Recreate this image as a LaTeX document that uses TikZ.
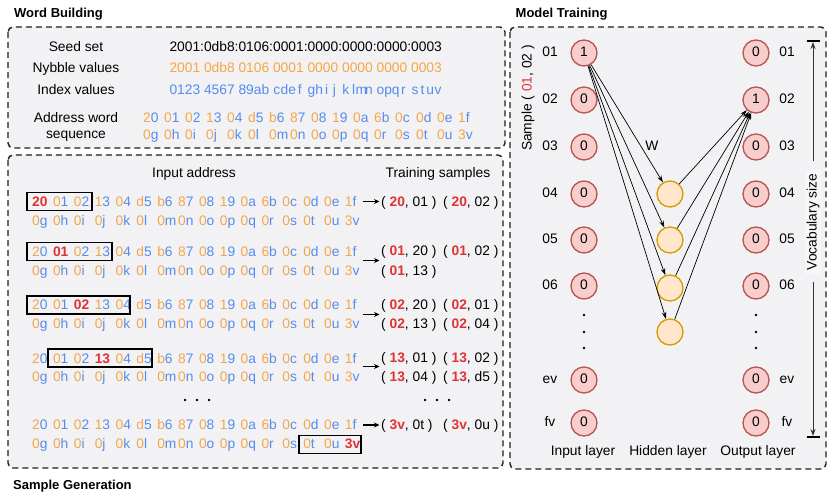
\documentclass[tikz,border=0pt]{standalone}
\usepackage{fontspec}
\setmainfont{Liberation Sans}
\usetikzlibrary{arrows.meta}
\definecolor{panelfill}{RGB}{242,242,245}
\definecolor{vocfill}{RGB}{247,247,249}
\definecolor{aorange}{RGB}{246,166,70}
\definecolor{ablue}{RGB}{82,140,240}
\definecolor{ared}{RGB}{222,52,52}
\definecolor{cfill}{RGB}{248,206,204}
\definecolor{cdraw}{RGB}{184,84,80}
\definecolor{hfill}{RGB}{255,230,204}
\definecolor{hdraw}{RGB}{215,155,0}
\newcommand\bodyfs{\fontsize{13.8}{16}\selectfont}
\newcommand\titlefs{\fontsize{13}{15}\selectfont\bfseries}
\newcommand\cb[1]{\makebox[0.556em][c]{#1}}
\newcommand\grp[4]{\cb{#1}\cb{#2}\cb{#3}\cb{#4}}
\newcommand\gsep{\hspace{0.278em}}
\newcommand\rb[1]{\textcolor{ared}{\bfseries #1}}
\newcommand\tsp[2]{( \rb{#1}, #2 )}
\newcommand\redidx{-1}
% #1 name prefix, #2 x0, #3 pitch, #4 baseline line1, #5 baseline line2
\newcommand\addrrows[5]{%
  \foreach \pa/\pb [count=\i from 0] in {2/0,0/1,0/2,1/3,0/4,d/5,b/6,8/7,0/8,1/9,0/a,6/b,0/c,0/d,0/e,1/f,0/g,0/h,0/i,0/j,0/k,0/l,0/m,0/n,0/o,0/p,0/q,0/r,0/s,0/t,0/u,3/v}{%
    \pgfmathtruncatemacro\wcol{mod(\i,16)}%
    \pgfmathsetmacro\wy{\i<16 ? #4 : #5}%
    \ifnum\i=\redidx\relax
      \node[aw] (#1w\i) at ({#2+\wcol*#3},\wy) {\rb{\pa\pb}};
    \else
      \node[aw] (#1w\i) at ({#2+\wcol*#3},\wy) {\textcolor{aorange}{\pa}\textcolor{ablue}{\pb}};
    \fi
  }%
}
\begin{document}
\begin{tikzpicture}[x=1pt,y=-1pt,
  panel/.style={draw=black!88,fill=panelfill,line width=1.4pt,dash pattern=on 6pt off 4pt,rounded corners=5pt},
  title/.style={anchor=base west,inner sep=0pt,font=\titlefs},
  txt/.style={anchor=base,inner sep=0pt,font=\bodyfs},
  txtw/.style={anchor=base west,inner sep=0pt,font=\bodyfs},
  aw/.style={anchor=base west,inner sep=0pt,font=\bodyfs},
  hbox/.style={draw=black,line width=1.6pt},
  sarr/.style={line width=1.1pt,-{Stealth[length=5.5pt,width=5pt]}},
  narr/.style={line width=0.7pt,-{Stealth[length=7pt,width=4.5pt]}},
  neu/.style={circle,draw=cdraw,fill=cfill,line width=1.3pt,minimum size=26pt,inner sep=0pt,text height=0.716em,text depth=0pt,font=\bodyfs},
  hid/.style={circle,draw=hdraw,fill=hfill,line width=1.3pt,minimum size=26pt,inner sep=0pt},
  lab/.style={inner sep=0pt,text height=0.716em,text depth=0pt,font=\bodyfs}
]
\useasboundingbox (0,0) rectangle (830,498);

% ---------------- panels
\draw[panel] (8,27) rectangle (505,148);
\draw[panel] (8,155) rectangle (503,468);
\draw[panel] (510,27) rectangle (826,469);

\node[title] (tWB) at (14,17.3) {Word Building};
\node[title] (tMT) at (515.5,17.3) {Model Training};
\node[title] (tSG) at (13,489.6) {Sample Generation};

% ---------------- word building
\node[txt] (lSeed) at (76,51) {Seed set};
\node[txt] (lNyb) at (76,72.3) {Nybble values};
\node[txt] (lIdx) at (76,94.5) {Index values};
\node[txt] (lAw1) at (76,122.5) {Address word};
\node[txt] (lAw2) at (76,138.5) {sequence};

\node[txtw] (vSeed) at (169.3,51) {2001:0db8:0106:0001:0000:0000:0000:0003};
\node[txtw,text=aorange] (vNyb) at (169.3,72.3) {\grp2001\gsep\grp0db8\gsep\grp0106\gsep\grp0001\gsep\grp0000\gsep\grp0000\gsep\grp0000\gsep\grp0003};
\node[txtw,text=ablue] (vIdx) at (169.3,94.5) {\grp0123\gsep\grp4567\gsep\grp89ab\gsep\grp cdef\gsep\grp ghij\gsep\grp klmn\gsep\grp opqr\gsep\grp stuv};

\renewcommand\redidx{-1}
\addrrows{wb}{143}{21}{122.5}{139.5}

% ---------------- sample generation
\node[txt] (lIn) at (194,177) {Input address};
\node[txt] (lTr) at (438,177) {Training samples};

\renewcommand\redidx{0}
\addrrows{ra}{32}{20.85}{206.6}{225.8}
\renewcommand\redidx{1}
\addrrows{rb}{32}{20.85}{256.6}{275.4}
\renewcommand\redidx{2}
\addrrows{rc}{32}{20.85}{309.8}{328.6}
\renewcommand\redidx{3}
\addrrows{rd}{32}{20.85}{363.1}{381.9}
\renewcommand\redidx{31}
\addrrows{re}{32}{20.85}{429.8}{448.6}

\draw[hbox] (27,192.5) rectangle (92,210.5);
\draw[hbox] (27,242.5) rectangle (112,260.5);
\draw[hbox] (27,296) rectangle (130,314);
\draw[hbox] (48,349) rectangle (152,367);
\draw[hbox] (299,435.5) rectangle (361,453.5);

% dots
\fill (185,400) circle (1.3) (197,400) circle (1.3) (209,400) circle (1.3);
\fill (425,400) circle (1.3) (437,400) circle (1.3) (449,400) circle (1.3);

% arrows
\coordinate (sa1) at (363,201.5); \coordinate (ea1) at (379.5,201.5);
\coordinate (sa2) at (363,260.5); \coordinate (ea2) at (379.5,260.5);
\coordinate (sa3) at (363,314.5); \coordinate (ea3) at (379.5,314.5);
\coordinate (sa4) at (363,366.5); \coordinate (ea4) at (379.5,366.5);
\coordinate (sa5) at (363,425); \coordinate (ea5) at (379.5,425);
\foreach \k in {1,...,5} \draw[sarr] (sa\k) -- (ea\k);

% training samples
\node[txtw] (ts1a) at (381,206.6) {\tsp{20}{01}};
\node[txtw] (ts1b) at (443,206.6) {\tsp{20}{02}};
\node[txtw] (ts2a) at (381,255.8) {\tsp{01}{20}};
\node[txtw] (ts2b) at (443,255.8) {\tsp{01}{02}};
\node[txtw] (ts2c) at (381,275) {\tsp{01}{13}};
\node[txtw] (ts3a) at (381,309.8) {\tsp{02}{20}};
\node[txtw] (ts3b) at (443,309.8) {\tsp{02}{01}};
\node[txtw] (ts3c) at (381,328.8) {\tsp{02}{13}};
\node[txtw] (ts3d) at (443,328.8) {\tsp{02}{04}};
\node[txtw] (ts4a) at (381,362.3) {\tsp{13}{01}};
\node[txtw] (ts4b) at (443,362.3) {\tsp{13}{02}};
\node[txtw] (ts4c) at (381,381) {\tsp{13}{04}};
\node[txtw] (ts4d) at (443,381) {\tsp{13}{d5}};
\node[txtw] (ts5a) at (381,429.8) {\tsp{3v}{0t}};
\node[txtw] (ts5b) at (443,429.8) {\tsp{3v}{0u}};

% ---------------- model training
\foreach \lab/\yy/\v [count=\k] in {01/53/1,02/100/0,03/147/0,04/194/0,05/240/0,06/286/0,ev/380/0,fv/423/0}{
  \node[neu] (in\k) at (584,\yy) {\v};
  \node[lab] (inl\k) at (550,\yy) {\lab};
}
\foreach \lab/\yy/\v [count=\k] in {01/53/0,02/100/1,03/147/0,04/194/0,05/240/0,06/286/0,ev/380/0,fv/423/0}{
  \node[neu] (out\k) at (756,\yy) {\v};
  \node[lab] (outl\k) at (787,\yy) {\lab};
}
\foreach \yy [count=\k] in {194,240,288,332}{
  \node[hid] (h\k) at (670,\yy) {};
}
\foreach \yy in {315,332,348}{
  \fill (584,\yy) circle (1.3);
  \fill (756,\yy) circle (1.3);
}
\foreach \k in {1,...,4}{
  \draw[narr] (in1) -- (h\k);
  \draw[narr] (h\k) -- (out2);
}
\node[lab] (W) at (652,147) {W};

\node[txt] (lInL) at (583,455.5) {Input layer};
\node[txt] (lHidL) at (668,455.5) {Hidden layer};
\node[txt] (lOutL) at (758,455.5) {Output layer};

\node[lab,rotate=90] (samp) at (528,98) {Sample ( \textcolor{ared}{01}, 02 )};

% vocabulary size
\node[lab,rotate=90,fill=vocfill,inner sep=4pt] (voc) at (813,222) {Vocabulary size};
\coordinate (vu) at (813,161);
\coordinate (vt) at (813,42);
\coordinate (vl) at (813,282);
\coordinate (vb) at (813,436);
\draw[line width=0.9pt,draw=black!80,-{Stealth[length=7pt,width=5pt]}] (vu) -- (vt);
\draw[line width=0.9pt,draw=black!80,-{Stealth[length=7pt,width=5pt]}] (vl) -- (vb);
\coordinate (vt1) at (806.5,41); \coordinate (vt2) at (819.5,41);
\coordinate (vb1) at (806.5,437); \coordinate (vb2) at (819.5,437);
\draw[line width=2.4pt] (vt1) -- (vt2);
\draw[line width=2.4pt] (vb1) -- (vb2);
\end{tikzpicture}
\end{document}
